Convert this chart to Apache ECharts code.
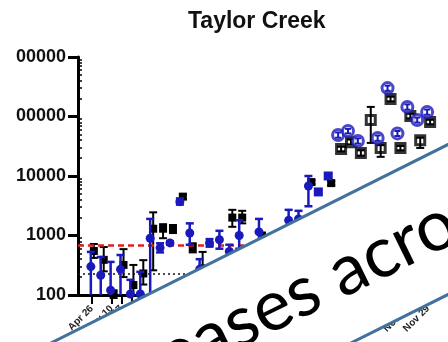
<!DOCTYPE html>
<html><head><meta charset="utf-8">
<script src="https://cdn.jsdelivr.net/npm/echarts@6/dist/echarts.min.js"></script>
<style>html,body{margin:0;padding:0;background:#fff;overflow:hidden}#c{width:448px;height:342px}</style>
</head><body><div id="c"></div>
<script>
// ---- data ----
const dateLabels = ['Apr 26','May 3','May 10','May 17','May 24','May 31','Jun 7','Jun 14','Jun 21','Jun 28',
  'Jul 5','Jul 12','Jul 19','Jul 26','Aug 2','Aug 9','Aug 16','Aug 23','Aug 30','Sep 6','Sep 13','Sep 20',
  'Sep 27','Oct 4','Oct 11','Oct 18','Oct 21','Oct 25','Nov 1','Nov 4','Nov 8','Nov 11','Nov 15','Nov 22','Nov 29'];
const yTickValues = [100, 1000, 10000, 100000, 1000000];
const yTickLabels = ['100', '1000', '10000', '00000', '00000'];
const yMinorTicks = [200,300,400,500,600,700,800,900,2000,3000,4000,5000,6000,7000,8000,9000,
  20000,30000,40000,50000,60000,70000,80000,90000,200000,300000,400000,500000,600000,700000,800000,900000];
// [week index, mean, low, high]
const blueFilled = [
  [0,300,80,530],[1,215,60,435],[2,120,40,360],[3,270,60,470],[4,104,50,180],[5,104,40,245],
  [6,900,30,1900],[7,620,520,740],[8,750,700,800],[9,3700,3300,4200],[10,1100,700,1600],
  [11,270,200,400],[12,750,650,870],[13,850,600,1200],[14,540,400,700],[15,1000,600,1800],
  [17,1150,800,1900],[20,1800,1300,2700],[21,1900,1400,2600],[22,6800,3100,10000]
];
const blueSquare = [[23,5400,5000,5800],[24,10000,9300,10800]];
const blackFilled = [
  [0,550,420,720],[1,390,250,640],[2,100,80,120],[3,320,200,590],[4,147,80,320],[5,230,150,385],
  [6,1300,260,2450],[7,1300,900,1550],[8,1300,1100,1500],[9,4500,4100,4900],[10,620,520,740],
  [11,280,120,530],[14,2000,1400,2700],[15,2000,1600,2600],[17,1000,900,1100],
  [22,7900,7300,8500],[24,7600,7000,8200]
];
const blueOpen = [
  [25,49000,44000,54000],[26,57000,52000,62000],[27,38700,35000,43000],[29,43500,39000,48000],
  [30,300000,270000,330000],[31,52000,47000,57000],[32,145000,130000,160000],[33,87000,79000,96000],
  [34,119000,107000,131000]
];
const blackOpen = [
  [25,28400,26000,31000],[26,37000,34000,41000],[27,24400,22000,27000],[28,87000,36000,145000],
  [29,29600,21000,33000],[30,197000,180000,215000],[31,29600,27000,32000],[32,102000,93000,111000],
  [33,40000,29600,44000],[34,81000,74000,88000]
];
const redLimit = 676;
const dotLimit = 225;

// ---- chart ----
const chart = echarts.init(document.getElementById('c'));
const BLUE = '#1a1abc';
function errBars(color, dx, lw, cap) {
  return function (params, api) {
    const i = api.value(0), lo = api.value(2), hi = api.value(3);
    const pHi = api.coord([i, hi]);
    const pLo = api.coord([i, Math.max(lo, 100)]);
    const x = pHi[0] + dx;
    const st = { stroke: color, lineWidth: lw };
    const ch = [
      { type: 'line', shape: { x1: x, y1: pHi[1], x2: x, y2: pLo[1] }, style: st },
      { type: 'line', shape: { x1: x - cap, y1: pHi[1], x2: x + cap, y2: pHi[1] }, style: st }
    ];
    if (lo >= 100) ch.push({ type: 'line', shape: { x1: x - cap, y1: pLo[1], x2: x + cap, y2: pLo[1] }, style: st });
    return { type: 'group', children: ch };
  };
}
function scatter(data, symbol, size, color, dx, open, z) {
  return {
    type: 'scatter', data: data.map(d => [d[0], d[1]]), symbol: symbol, symbolSize: size,
    symbolOffset: [dx, 0], z: z, silent: true,
    itemStyle: open ? { color: '#fff', borderColor: color, borderWidth: 3 } : { color: color, opacity: 1 }
  };
}
function bars(data, color, dx, lw, cap, z) {
  return { type: 'custom', data: data, renderItem: errBars(color, dx, lw, cap), z: z, silent: true,
    encode: { x: 0, y: 1 } };
}

const lean = Math.atan(0.49);
const option = {
  animation: false,
  title: { text: 'Taylor Creek', left: 183, top: 5,
    textStyle: { fontSize: 23, fontWeight: 'bold', fontFamily: 'Liberation Sans', color: '#111' } },
  grid: { left: 78, top: 57, width: 360, height: 238 },
  xAxis: {
    type: 'value', min: -1.4, max: 35, splitLine: { show: false },
    axisLine: { onZero: false, lineStyle: { color: '#000', width: 3 } },
    axisTick: { length: 9, lineStyle: { color: '#000', width: 2 }, customValues: dateLabels.map((_, i) => i) },
    axisLabel: { customValues: dateLabels.map((_, i) => i), formatter: v => dateLabels[Math.round(v)] || '',
      rotate: 45, fontSize: 10, fontWeight: 'bold', fontFamily: 'Liberation Sans', color: '#222', margin: 12,
      showMinLabel: true, showMaxLabel: true, hideOverlap: false }
  },
  yAxis: [{
    type: 'log', min: 100, max: 1000000, splitLine: { show: false },
    axisLine: { onZero: false, lineStyle: { color: '#000', width: 3 } },
    axisTick: { length: 10, lineStyle: { color: '#000', width: 3 }, customValues: yTickValues },
    axisLabel: { customValues: yTickValues, formatter: v => yTickLabels[yTickValues.indexOf(Math.round(v))] || '',
      fontSize: 18, fontWeight: 'bold', fontFamily: 'Liberation Sans', color: '#111', margin: 12 }
  }, {
    type: 'log', min: 100, max: 1000000, position: 'left', splitLine: { show: false },
    axisLine: { show: false, onZero: false }, axisLabel: { show: false },
    axisTick: { inside: true, length: 4, lineStyle: { color: '#000', width: 1.5 }, customValues: yMinorTicks }
  }],
  series: [
    {
      type: 'line', data: [], markLine: {
        silent: true, symbol: 'none', label: { show: false },
        data: [
          { yAxis: redLimit, lineStyle: { color: '#e0201c', type: [6, 4], width: 2.5 } },
          { yAxis: dotLimit, lineStyle: { color: '#111', type: [2, 3], width: 1.5 } }
        ]
      }
    },
    bars(blackFilled, '#000', 2, 2, 4, 3),
    scatter(blackFilled, 'rect', 8, '#000', 2, false, 4),
    bars(blueFilled, BLUE, -1, 2.5, 4, 5),
    scatter(blueFilled, 'circle', 9, BLUE, -1, false, 6),
    bars(blueSquare, BLUE, -1, 2.5, 4, 5),
    scatter(blueSquare, 'rect', 9, BLUE, -1, false, 6),
    scatter(blackOpen, 'rect', 9, '#000', 2, true, 7),
    bars(blackOpen, '#000', 2, 2, 4, 8),
    scatter(blueOpen, 'circle', 11, BLUE, -1, true, 9),
    bars(blueOpen, BLUE, -1, 2, 3, 10)
  ],
  graphic: [
    { type: 'polygon', z: 100, silent: true,
      shape: { points: [[30, 353.5], [470, 133.5], [470, 283.5], [320, 358.5]] },
      style: { fill: '#fff', stroke: '#41719C', lineWidth: 3 } },
    { type: 'text', z: 101, silent: true, x: 74, y: 444, rotation: lean,
      style: { text: 'increases across', font: '71px Lato', fill: '#000', textAlign: 'left', textVerticalAlign: 'bottom' } }
  ]
};
chart.setOption(option);
</script></body></html>
